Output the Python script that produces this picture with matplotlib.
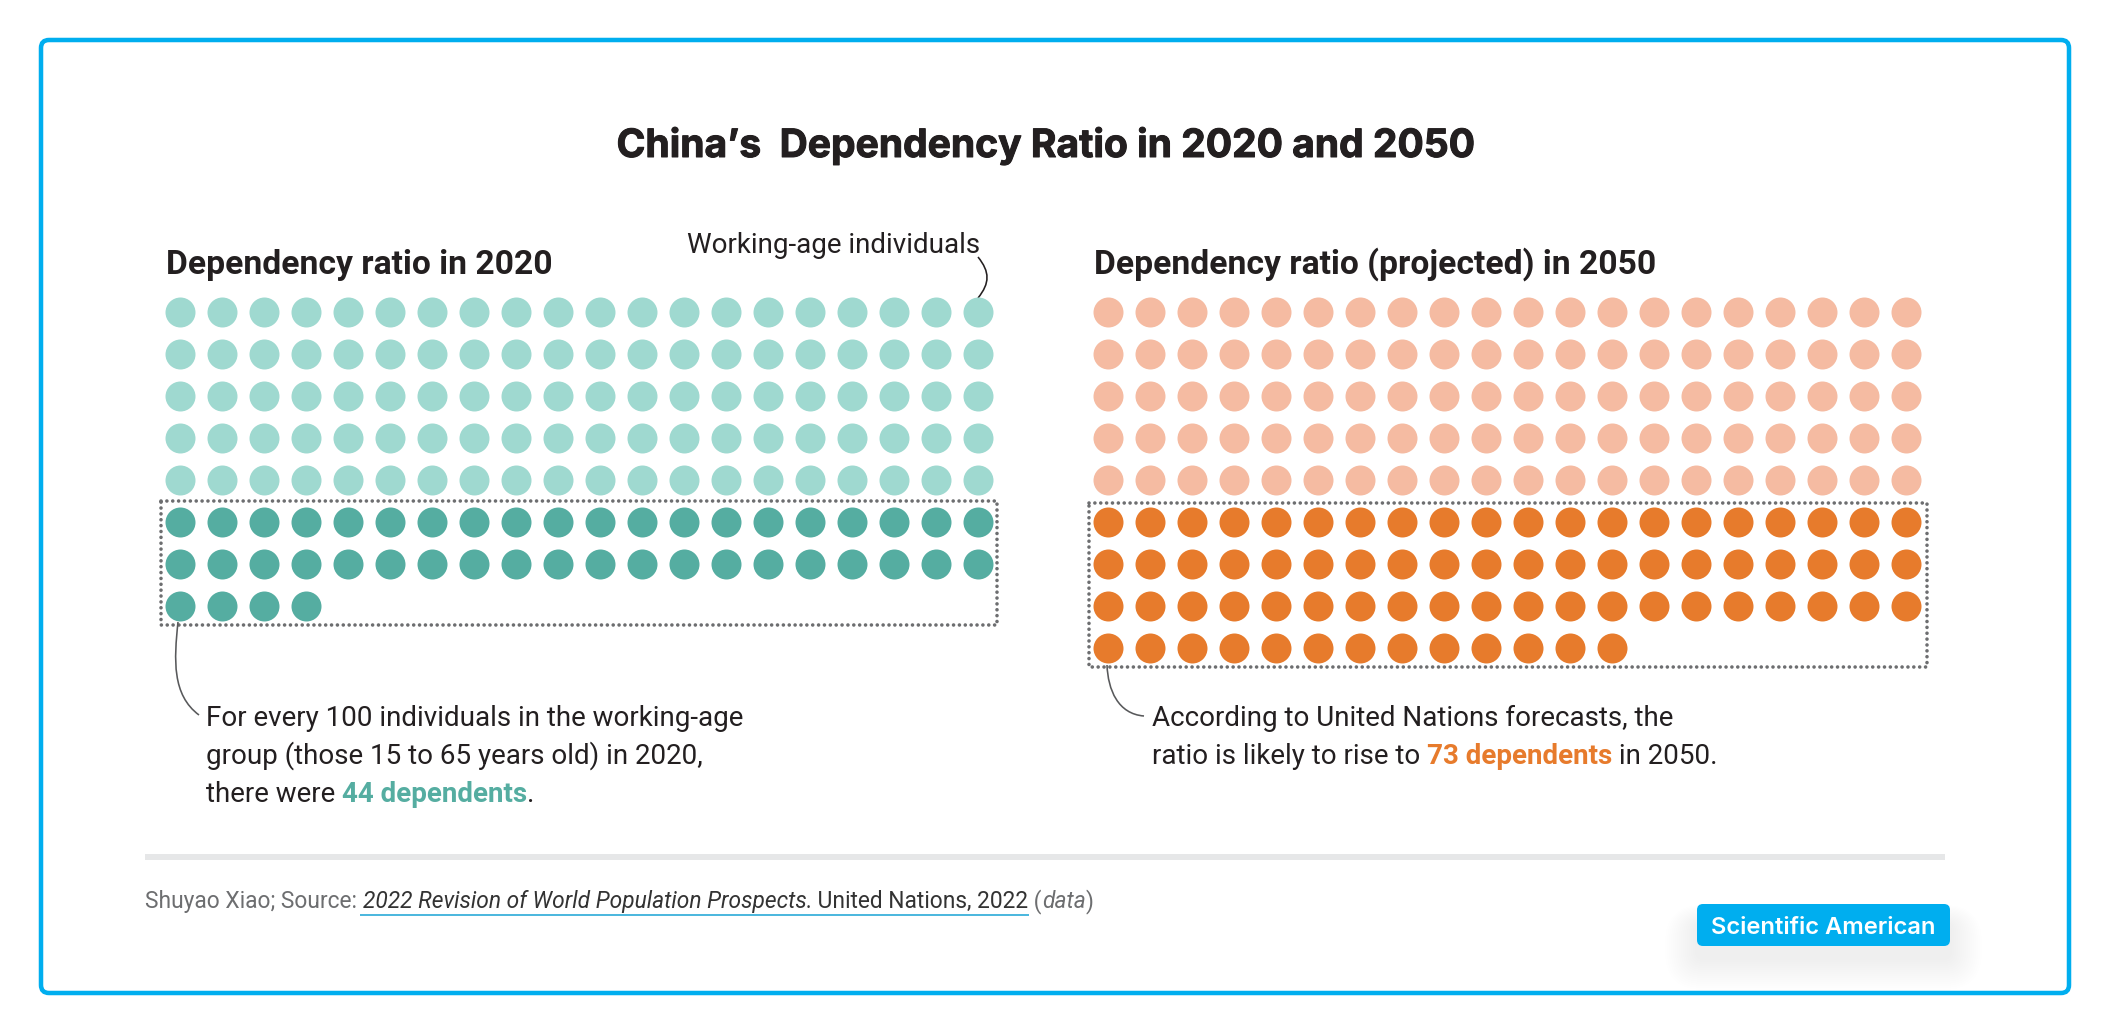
import matplotlib

matplotlib.use("Agg")

import matplotlib.patheffects as pe
import matplotlib.pyplot as plt
from matplotlib.patches import FancyBboxPatch, PathPatch, Rectangle
from matplotlib.path import Path

WIDTH, HEIGHT = 2109, 1033

# values
N_COLS = 20
WORKING_AGE = 100
DEPENDENTS_2020 = 44
DEPENDENTS_2050 = 73

TITLE = "China\u2019s  Dependency Ratio in 2020 and 2050"
PANEL_2020 = "Dependency ratio in 2020"
PANEL_2050 = "Dependency ratio (projected) in 2050"
WORKING_LABEL = "Working-age individuals"

INK = "#231f20"
BLUE = "#00aeef"
TEAL_LIGHT = "#9fd9d0"
TEAL_DARK = "#55ada1"
ORANGE_LIGHT = "#f5bba2"
ORANGE_DARK = "#e77b2c"
BODY = ["Roboto", "DejaVu Sans"]
BODY_SIZE = 27.8


def px(size):
    return size * 0.72


def draw_runs(ax, x, y, runs, size, family=BODY):
    # consecutive bits of text on one baseline, each with its own style
    renderer = ax.figure.canvas.get_renderer()
    for label, color, weight, style in runs:
        t = ax.text(x, y, label, color=color, fontsize=px(size), fontweight=weight,
                    fontstyle=style, family=family, ha="left", va="baseline")
        x += t.get_window_extent(renderer).width


def curve(ax, start, c1, c2, end, color, lw=1.6):
    path = Path([start, c1, c2, end], [Path.MOVETO, Path.CURVE4, Path.CURVE4, Path.CURVE4])
    ax.add_patch(PathPatch(path, fc="none", ec=color, lw=px(lw), zorder=2))


def dot_panel(fig, x0, y0, total, dependents, light, dark):
    # axes box covers the dot grid, data units are columns and rows
    step = 42
    n_rows = (total + dependents + N_COLS - 1) // N_COLS
    left = x0 - step / 2
    top = y0 - step / 2
    ax = fig.add_axes([left / WIDTH, 1 - (top + n_rows * step) / HEIGHT,
                       N_COLS * step / WIDTH, n_rows * step / HEIGHT])
    ax.set_xlim(-0.5, N_COLS - 0.5)
    ax.set_ylim(n_rows - 0.5, -0.5)
    ax.axis("off")
    ax.patch.set_alpha(0)

    rows = [i // N_COLS for i in range(total + dependents)]
    cols = [i % N_COLS for i in range(total + dependents)]
    size = px(30) ** 2
    ax.scatter(cols[:total], rows[:total], s=size, color=light, linewidths=0)
    ax.scatter(cols[total:], rows[total:], s=size, color=dark, linewidths=0)


fig = plt.figure(figsize=(WIDTH / 100, HEIGHT / 100), dpi=100, facecolor="white")
page = fig.add_axes([0, 0, 1, 1])
page.set_xlim(0, WIDTH)
page.set_ylim(HEIGHT, 0)
page.axis("off")
fig.canvas.draw()

# frame
page.add_patch(FancyBboxPatch((41, 40), 2028, 953, boxstyle="round,pad=0,rounding_size=8",
                              fc="white", ec=BLUE, lw=px(4.5)))

title = page.text(1045.5, 157, TITLE, ha="center", va="baseline", color=INK,
                  fontsize=px(39), fontweight="bold", family=["Inter", "Roboto", "DejaVu Sans"])
title.set_path_effects([pe.withStroke(linewidth=px(1), foreground=INK)])
page.text(165.5, 274, PANEL_2020, color=INK, fontsize=px(33.6), fontweight="bold", family=BODY)
page.text(1093.5, 274, PANEL_2050, color=INK, fontsize=px(33.6), fontweight="bold", family=BODY)
page.text(687, 253, WORKING_LABEL, color=INK, fontsize=px(BODY_SIZE), family=BODY)

dot_panel(fig, 180, 311.7, WORKING_AGE, DEPENDENTS_2020, TEAL_LIGHT, TEAL_DARK)
dot_panel(fig, 1107.5, 311.7, WORKING_AGE, DEPENDENTS_2050, ORANGE_LIGHT, ORANGE_DARK)

# dotted boxes around the dependents
for x0, y0, x1, y1 in [(161, 500.7, 997, 624.7), (1089, 502.7, 1927, 666.7)]:
    page.plot([x0, x1, x1, x0, x0], [y0, y0, y1, y1, y0], color="#6d6e70", lw=px(3.6),
              ls=(0, (0.01, 1.62)), dash_capstyle="round", solid_joinstyle="round")

# leader lines
curve(page, (978, 257), (990, 272), (990, 283), (978, 298), INK)
curve(page, (178, 622), (174, 660), (172, 695), (199, 715), "#58595b")
curve(page, (1107, 665), (1108, 690), (1118, 714), (1144, 716), "#58595b")

draw_runs(page, 206, 726, [("For every 100 individuals in the working-age", INK, "normal", "normal")], BODY_SIZE)
draw_runs(page, 206, 764, [("group (those 15 to 65 years old) in 2020,", INK, "normal", "normal")], BODY_SIZE)
draw_runs(page, 206, 802, [("there were ", INK, "normal", "normal"),
                           ("44 dependents", TEAL_DARK, "bold", "normal"),
                           (".", INK, "normal", "normal")], BODY_SIZE)
draw_runs(page, 1151.5, 726, [("According to United Nations forecasts, the", INK, "normal", "normal")], BODY_SIZE)
draw_runs(page, 1151.5, 764, [("ratio is likely to rise to ", INK, "normal", "normal"),
                              ("73 dependents", ORANGE_DARK, "bold", "normal"),
                              (" in 2050.", INK, "normal", "normal")], BODY_SIZE)

# footer
page.add_patch(Rectangle((145, 854), 1800, 6, fc="#e6e7e8", ec="none"))
draw_runs(page, 145, 908, [("Shuyao Xiao; Source: ", "#6d6e70", "normal", "normal"),
                           ("2022 Revision of World Population Prospects.", "#333333", "normal", "italic"),
                           (" United Nations, 2022", "#333333", "normal", "normal"),
                           (" (", "#6d6e70", "normal", "normal"),
                           ("data", "#6d6e70", "normal", "italic"),
                           (")", "#6d6e70", "normal", "normal")], 22.7)
page.add_patch(Rectangle((360, 914), 669, 2, fc="#4db8de", ec="none"))

# badge with soft shadow
for grow in range(32, 0, -2):
    page.add_patch(FancyBboxPatch((1697 - grow, 924 - grow * 0.6), 253 + 2 * grow, 34 + 1.6 * grow,
                                  boxstyle=f"round,pad=0,rounding_size={6 + grow}",
                                  fc="black", ec="none", alpha=0.002))
page.add_patch(FancyBboxPatch((1697, 904), 253, 42, boxstyle="round,pad=0,rounding_size=6",
                              fc=BLUE, ec="none"))
page.text(1823.5, 934, "Scientific American", color="white", ha="center", va="baseline",
          fontsize=px(23.8), fontweight="semibold", family=["Inter", "DejaVu Sans"])

fig.savefig("out.png", dpi=100)
